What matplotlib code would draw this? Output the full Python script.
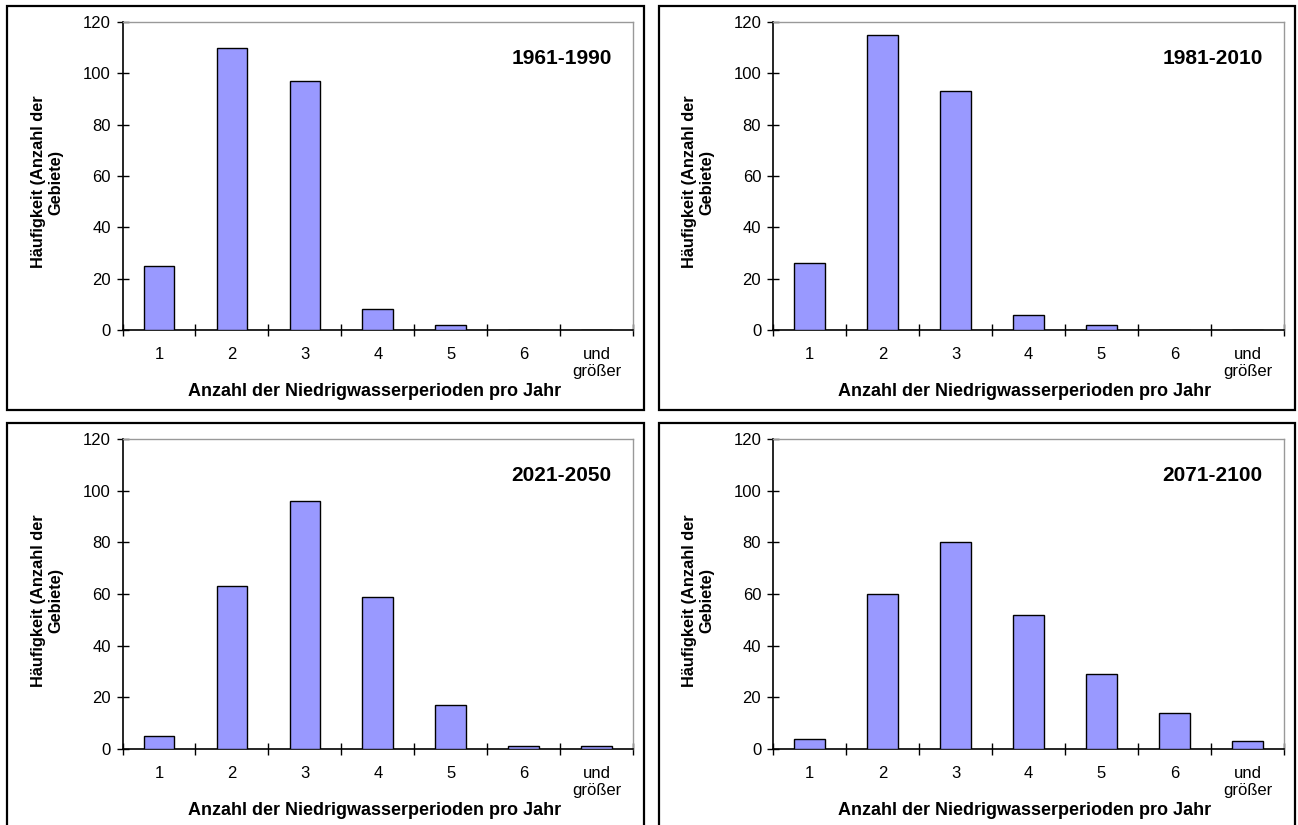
import numpy as np
import matplotlib
matplotlib.use("Agg")
import matplotlib.pyplot as plt
from matplotlib.patches import Rectangle

# Data
categories = ["1", "2", "3", "4", "5", "6", "und\ngrößer"]
periods = ["1961-1990", "1981-2010", "2021-2050", "2071-2100"]
counts_1961_1990 = [25, 110, 97, 8, 2, 0, 0]
counts_1981_2010 = [26, 115, 93, 6, 2, 0, 0]
counts_2021_2050 = [5, 63, 96, 59, 17, 1, 1]
counts_2071_2100 = [4, 60, 80, 52, 29, 14, 3]
series = [counts_1961_1990, counts_1981_2010, counts_2021_2050, counts_2071_2100]

xlabel = "Anzahl der Niedrigwasserperioden pro Jahr"
ylabel = "Häufigkeit (Anzahl der\nGebiete)"

plt.rcParams["font.family"] = ["Liberation Sans", "DejaVu Sans"]

W, H = 1298, 825
fig = plt.figure(figsize=(W / 100, H / 100), dpi=100)
fig.patch.set_facecolor("white")

# panel frames and plot areas in pixel coordinates (left, top, right, bottom)
frames = [(7, 6, 644, 410), (659, 6, 1295, 410), (7, 423, 644, 830), (659, 423, 1295, 830)]
plots = [(122.5, 22, 633, 330), (773, 22, 1284, 330), (122.5, 439, 633, 749), (773, 439, 1284, 749)]

x = np.arange(len(categories))

for i in range(4):
    fl, ft, fr, fb = frames[i]
    fig.patches.append(Rectangle((fl / W, 1 - fb / H), (fr - fl) / W, (fb - ft) / H,
                                 transform=fig.transFigure, fill=False,
                                 edgecolor="black", lw=1.6, clip_on=False))
    pl, pt, pr, pb = plots[i]
    ax = fig.add_axes([pl / W, 1 - pb / H, (pr - pl) / W, (pb - pt) / H])

    ax.bar(x, series[i], width=0.42, color="#9999FF", edgecolor="black", lw=1.0, zorder=3)

    ax.set_xlim(-0.5, len(categories) - 0.5)
    ax.set_ylim(0, 120)
    ax.set_yticks(np.arange(0, 121, 20))

    ax.set_xticks(np.arange(-0.5, len(categories), 1.0))
    ax.set_xticklabels([])
    ax.set_xticks(x, minor=True)
    ax.set_xticklabels(categories, minor=True)
    ax.tick_params(axis="x", which="major", direction="inout", length=9, width=1.0)
    ax.tick_params(axis="x", which="minor", length=0, pad=12, labelsize=12)
    ax.tick_params(axis="y", direction="inout", length=9, width=1.0, pad=4, labelsize=12)

    for side in ["top", "right"]:
        ax.spines[side].set_color("#999999")
        ax.spines[side].set_linewidth(1.0)
    for side in ["left", "bottom"]:
        ax.spines[side].set_color("black")
        ax.spines[side].set_linewidth(1.2)

    ax.set_xlabel(xlabel, fontsize=13, fontweight="bold")
    ax.xaxis.set_label_coords(0.493, -0.172)
    ax.set_ylabel(ylabel, fontsize=11.8, fontweight="bold", multialignment="center")
    ax.yaxis.set_label_coords(-0.115, 0.48)

    ax.text(0.86, 0.883, periods[i], transform=ax.transAxes, ha="center", va="center",
            fontsize=15, fontweight="bold")

fig.savefig("out.png", dpi=100)
